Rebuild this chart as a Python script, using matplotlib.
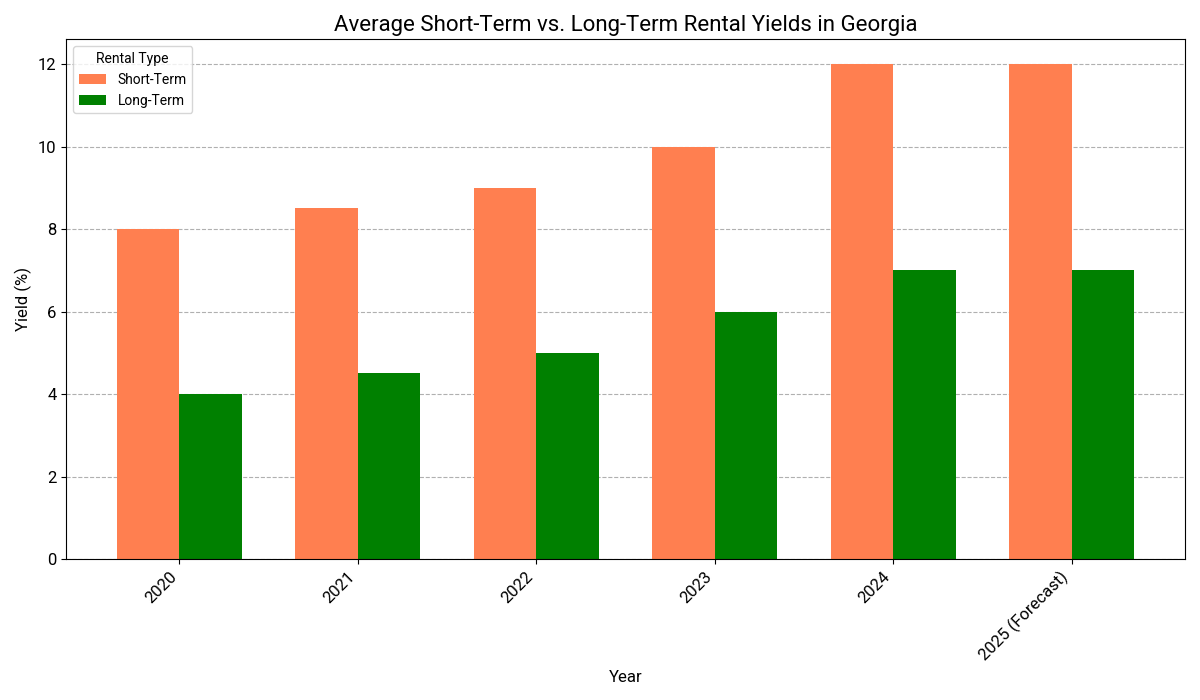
import matplotlib
matplotlib.use("Agg")
import matplotlib.pyplot as plt
import numpy as np

plt.rcParams['font.family'] = ['Roboto', 'DejaVu Sans']

years = ['2020', '2021', '2022', '2023', '2024', '2025 (Forecast)']
short_term = [8, 8.5, 9, 10, 12, 12]
long_term = [4, 4.5, 5, 6, 7, 7]

x = np.arange(len(years))
width = 0.35

fig, ax = plt.subplots(figsize=(12, 7), dpi=100)
# short-term sits left of the tick, long-term right
ax.bar(x - width / 2, short_term, width, label='Short-Term', color='coral')
ax.bar(x + width / 2, long_term, width, label='Long-Term', color='green')

ax.set_xticks(x)
ax.set_xticklabels(years, rotation=45, ha='right', fontsize=12)
ax.tick_params(axis='y', labelsize=12)
ax.set_xlabel('Year', fontsize=12)
ax.set_ylabel('Yield (%)', fontsize=12)
ax.set_title('Average Short-Term vs. Long-Term Rental Yields in Georgia', fontsize=16)
ax.yaxis.grid(True, linestyle='--', color='#b0b0b0')
ax.set_axisbelow(True)
ax.legend(title='Rental Type', loc='upper left', fontsize=10, title_fontsize=10)

fig.tight_layout()
fig.savefig('out.png')
